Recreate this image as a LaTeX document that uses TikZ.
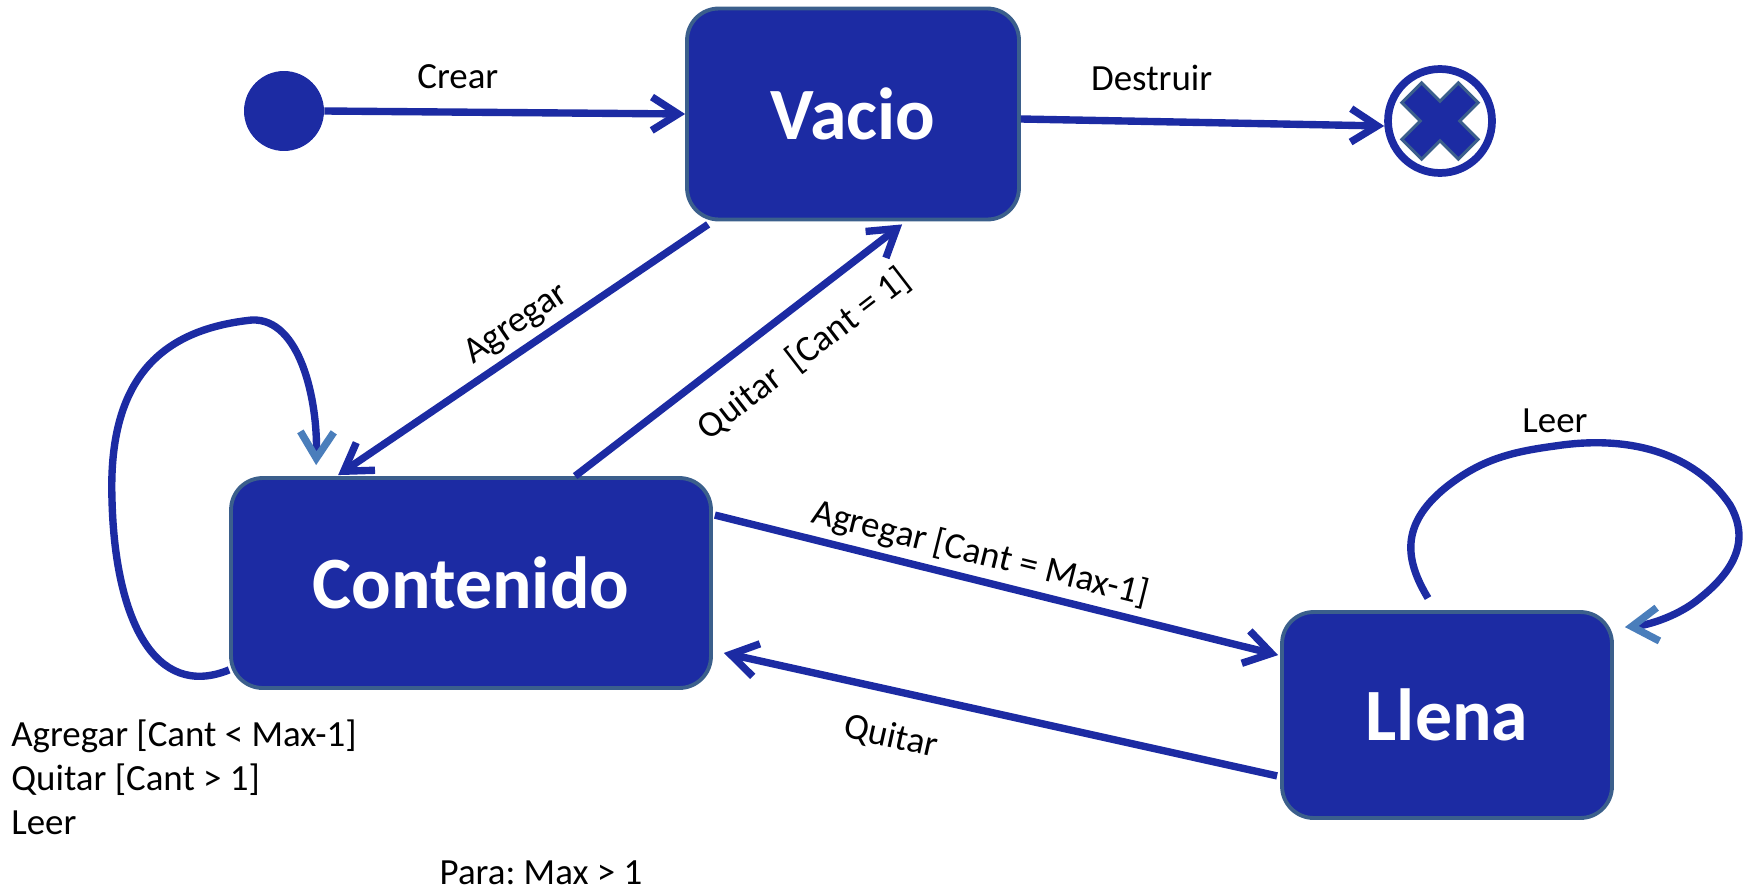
\documentclass[tikz,border=0pt]{standalone}
\usepackage{fontspec}
\setmainfont{Carlito}
\usetikzlibrary{arrows.meta,calc}

\definecolor{stateblue}{HTML}{1C2BA3}
\definecolor{stateedge}{HTML}{3B5F8C}
\definecolor{loophead}{HTML}{4A7EBB}

\frenchspacing
\begin{document}
\begin{tikzpicture}[x=0.02cm, y=-0.02cm,
    state/.style={rectangle, rounded corners=18pt, draw=stateedge, line width=2.2pt, fill=stateblue, text=white, font=\bfseries\fontsize{42}{50}\selectfont},
    trans/.style={draw=stateblue, line width=4.2pt, -{Straight Barb[length=15pt,width=19pt]}},
    loopback/.style={draw=stateblue, line width=4.2pt, -{Straight Barb[length=15pt,width=19pt,color=loophead]}},
    lbl/.style={font=\fontsize{21}{25.2}\selectfont, text=black}]
    \useasboundingbox (0,0) rectangle (1746,892);

    % draw states
    \node[circle, fill=stateblue, minimum size=1.6cm, inner sep=0pt] (inicio) at (284,111) {};
    \node[state, minimum width=6.64cm, minimum height=4.22cm] (vacio) at (853,114) {Vacio};
    \node[state, minimum width=9.6cm, minimum height=4.2cm] (contenido) at (471,583) {Contenido};
    \node[state, minimum width=6.6cm, minimum height=4.12cm] (llena) at (1447,715) {Llena};
    \node[circle, draw=stateblue, line width=4.4pt, minimum size=2.08cm, inner sep=0pt] (fin) at (1440,121) {};
    \filldraw[fill=stateblue, draw=stateedge, line width=1.7pt, shift={(fin.center)}, rotate=45]
        (14,14) -- (40,14) -- (40,-14) -- (14,-14) -- (14,-40) -- (-14,-40) -- (-14,-14) -- (-40,-14)
        -- (-40,14) -- (-14,14) -- (-14,40) -- (14,40) -- cycle;

    % draw transitions
    \draw[trans] (inicio.east) -- (vacio.west) node[lbl, pos=0.37, above=8pt] (lcrear) {Crear};
    \draw[trans] ($(vacio.east)+(0,5)$) -- ($(fin.west)+(0,5)$) node[lbl, pos=0.36, above=12pt] (ldestruir) {Destruir};
    \draw[trans] ($(vacio.south west)+(23,3)$) -- ($(contenido.north west)+(109,-1)$) node[lbl, pos=0.48, sloped, above] (lagregar) {Agregar};
    \draw[trans] ($(contenido.north west)+(346,0)$) -- ($(vacio.south west)+(217,3)$) node[lbl, pos=0.62, sloped, below=10pt] (lquitaruno) {Quitar\ \ [Cant = 1]};
    \draw[trans] ($(contenido.north east)+(2,39)$) -- ($(llena.north west)+(-2,45)$) node[lbl, pos=0.46, sloped, above] (lagregarmax) {Agregar [Cant = Max-1]};
    \draw[trans] ($(llena.south west)+(-3,-44)$) -- ($(contenido.south east)+(11,-37)$) node[lbl, pos=0.68, sloped, below=12pt] (lquitar) {Quitar};

    % draw self loops
    \draw[loopback] ($(contenido.south west)+(0,-20)$) .. controls (155,700) and (115,620) .. (112,500)
        .. controls (108,385) and (155,330) .. (252,320) .. controls (300,318) and (318,400) .. ($(contenido.north west)+(87,-11)$);
    \draw[loopback] ($(llena.north)+(-19,-12)$) .. controls (1405,560) and (1400,525) .. (1445,488)
        .. controls (1480,460) and (1510,452) .. (1555,446) node[lbl, above=2pt] (lleer) {Leer}
        .. controls (1640,433) and (1700,460) .. (1730,505) .. controls (1750,540) and (1735,570) .. (1700,598)
        .. controls (1680,615) and (1650,625) .. ($(llena.north east)+(11,17)$);

    % draw notes
    \node[lbl, anchor=north west, align=left, inner sep=0pt] (guardas) at (11,719) {Agregar [Cant < Max-1]\\Quitar [Cant > 1]\\Leer};
    \node[lbl, anchor=base, inner sep=0pt] (para) at (541,884) {Para: Max > 1};
\end{tikzpicture}
\end{document}
